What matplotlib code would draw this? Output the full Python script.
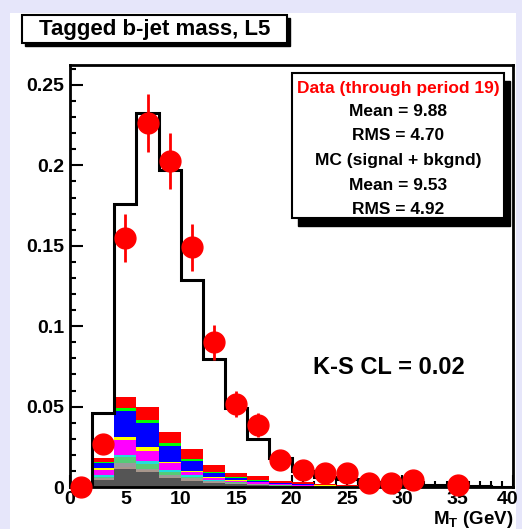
import numpy as np
import matplotlib
matplotlib.use("Agg")
import matplotlib.pyplot as plt
import matplotlib.transforms as mtransforms
from matplotlib.patches import Rectangle
from matplotlib.ticker import MultipleLocator

plt.rcParams['font.family'] = ['Liberation Sans', 'DejaVu Sans']
plt.rcParams['font.weight'] = 'bold'
plt.rcParams['mathtext.fontset'] = 'custom'
plt.rcParams['mathtext.bf'] = 'Liberation Sans:bold'
plt.rcParams['mathtext.rm'] = 'Liberation Sans:bold'

# ---------------- data ----------------
bin_edges = np.arange(0, 41, 2)
bin_centers = bin_edges[:-1] + 1

# MC (signal + background) total, normalised
mc_total = [0.0, 0.046, 0.176, 0.2326, 0.197, 0.129, 0.0796, 0.049, 0.030, 0.018,
            0.010, 0.006, 0.005, 0.003, 0.002, 0.0015, 0.001, 0.0008, 0.0005, 0.0003]

# Data points (bin centres)
data_x = [1, 3, 5, 7, 9, 11, 13, 15, 17, 19, 21, 23, 25, 27, 29, 31, 35]
data_y = [0.0, 0.0267, 0.155, 0.2264, 0.2027, 0.149, 0.090, 0.0516, 0.0386, 0.0168,
          0.0108, 0.0087, 0.0087, 0.0025, 0.0025, 0.0045, 0.0012]
data_err = [0.0, 0.006, 0.015, 0.018, 0.0175, 0.0146, 0.011, 0.0083, 0.0073, 0.005,
            0.004, 0.0035, 0.0035, 0.002, 0.002, 0.0025, 0.0012]

# Stacked background components: cumulative upper edge per bin (bottom to top)
stack_darkgray = [0, 0.0045, 0.0110, 0.0095, 0.0055, 0.0040, 0.0027, 0.0018, 0.0012, 0.0007, 0.0005, 0.0003, 0.0002, 0.0001, 0.0001, 0.0001, 0, 0, 0, 0]
stack_tan      = [0, 0.0050, 0.0122, 0.0105, 0.0064, 0.0048, 0.0032, 0.0021, 0.0014, 0.0008, 0.0006, 0.0004, 0.0003, 0.0002, 0.0001, 0.0001, 0, 0, 0, 0]
stack_gray     = [0, 0.0056, 0.0147, 0.0113, 0.0075, 0.0055, 0.0036, 0.0024, 0.0016, 0.0009, 0.0007, 0.0005, 0.0003, 0.0002, 0.0002, 0.0001, 0, 0, 0, 0]
stack_mint     = [0, 0.0062, 0.0185, 0.0145, 0.0092, 0.0065, 0.0040, 0.0028, 0.0019, 0.0011, 0.0008, 0.0006, 0.0004, 0.0003, 0.0002, 0.0001, 0, 0, 0, 0]
stack_cyan     = [0, 0.0072, 0.0199, 0.0164, 0.0106, 0.0072, 0.0044, 0.0030, 0.0021, 0.0012, 0.0009, 0.0006, 0.0004, 0.0003, 0.0002, 0.0001, 0, 0, 0, 0]
stack_magenta  = [0, 0.0108, 0.0292, 0.0226, 0.0147, 0.0095, 0.0058, 0.0040, 0.0030, 0.0018, 0.0013, 0.0009, 0.0006, 0.0004, 0.0003, 0.0002, 0, 0, 0, 0]
stack_yellow   = [0, 0.0116, 0.0313, 0.0251, 0.0158, 0.0100, 0.0060, 0.0042, 0.0031, 0.0019, 0.0014, 0.0010, 0.0006, 0.0004, 0.0003, 0.0002, 0, 0, 0, 0]
stack_blue     = [0, 0.0152, 0.0473, 0.0400, 0.0255, 0.0162, 0.0087, 0.0056, 0.0040, 0.0024, 0.0018, 0.0012, 0.0008, 0.0005, 0.0004, 0.0003, 0, 0, 0, 0]
stack_green    = [0, 0.0158, 0.0493, 0.0417, 0.0276, 0.0172, 0.0091, 0.0060, 0.0042, 0.0025, 0.0019, 0.0013, 0.0008, 0.0005, 0.0004, 0.0003, 0, 0, 0, 0]
stack_red      = [0, 0.0178, 0.0558, 0.0495, 0.0344, 0.0234, 0.0137, 0.0089, 0.0066, 0.0040, 0.0030, 0.0020, 0.0012, 0.0008, 0.0006, 0.0004, 0, 0, 0, 0]

stack_layers = [stack_darkgray, stack_tan, stack_gray, stack_mint, stack_cyan,
                stack_magenta, stack_yellow, stack_blue, stack_green, stack_red]
stack_colors = ['#555555', '#a8978c', '#9a9a9a', '#55cc77', '#22dddd',
                '#ff00ff', '#ffff00', '#0000ff', '#00ff00', '#ff0000']

x_ticks = [0, 5, 10, 15, 20, 25, 30, 35, 40]
y_ticks = [0, 0.05, 0.1, 0.15, 0.2, 0.25]
y_ticklabels = ['0', '0.05', '0.1', '0.15', '0.2', '0.25']

title_text = 'Tagged b-jet mass, L5'
stats_lines = ['Data (through period 19)', 'Mean = 9.88', 'RMS = 4.70',
               'MC (signal + bkgnd)', 'Mean = 9.53', 'RMS = 4.92']
ks_text = 'K-S CL = 0.02'

# ---------------- figure ----------------
W, H = 522, 529
fig = plt.figure(figsize=(W / 100, H / 100), dpi=100, facecolor='#e6e6fa')

def fx(px):
    return px / W

def fy(py):
    return 1 - py / H

# white canvas
fig.patches.append(Rectangle((fx(10), 0), fx(516) - fx(10), fy(13), transform=fig.transFigure,
                             facecolor='white', edgecolor='none', zorder=-10))

ax_left, ax_right, ax_top, ax_bottom = 70, 513, 65, 487
ax = fig.add_axes([fx(ax_left), fy(ax_bottom), fx(ax_right) - fx(ax_left), fy(ax_top) - fy(ax_bottom)])
ax.set_facecolor('white')

# stacked components
prev = np.zeros(len(bin_centers))
for layer, col in zip(stack_layers, stack_colors):
    top = np.array(layer)
    ax.bar(bin_centers, top - prev, width=2, bottom=prev, color=col, linewidth=0, zorder=2)
    prev = top

# MC total outline
ax.stairs(mc_total, bin_edges, color='black', linewidth=2.2, zorder=3)

# data
ax.errorbar(data_x, data_y, yerr=data_err, fmt='o', color='red', ms=15,
            elinewidth=2, capsize=0, clip_on=False, zorder=10)

ax.set_xlim(0, 40)
ax.set_ylim(0, 0.2624)
ax.set_xticks(x_ticks)
ax.set_xticklabels([str(t) for t in x_ticks])
ax.set_yticks(y_ticks)
ax.set_yticklabels(y_ticklabels)
ax.xaxis.set_minor_locator(MultipleLocator(1))
ax.yaxis.set_minor_locator(MultipleLocator(0.01))
ax.tick_params(which='both', direction='in', top=False, right=False, width=1.5, color='black')
ax.tick_params(which='major', length=9, labelsize=14)
ax.tick_params(which='minor', length=4.5)
ax.tick_params(axis='x', which='major', pad=3)
ax.tick_params(axis='y', which='major', pad=4)
for lab in ax.get_xticklabels() + ax.get_yticklabels():
    lab.set_fontweight('bold')
# nudge last x label inward like the reference
last = ax.get_xticklabels()[-1]
last.set_transform(last.get_transform() + mtransforms.ScaledTranslation(-5 / 100, 0, fig.dpi_scale_trans))
for sp in ax.spines.values():
    sp.set_linewidth(2)
    sp.set_zorder(5)

# K-S text
ax.text(fx(313), fy(367), ks_text, transform=fig.transFigure, fontsize=17,
        fontweight='bold', ha='left', va='center')

# x label
fig.text(fx(514), fy(520), r'$\mathbf{M_{T}}$ (GeV)', fontsize=13.5, fontweight='bold',
         ha='right', va='center')

# title box with shadow
tb_l, tb_t, tb_r, tb_b = 22, 15, 287, 43
sh = 3
fig.patches.append(Rectangle((fx(tb_l + sh), fy(tb_b + sh)), fx(tb_r) - fx(tb_l), fy(tb_t) - fy(tb_b),
                             transform=fig.transFigure, facecolor='black', edgecolor='black', zorder=1))
fig.patches.append(Rectangle((fx(tb_l), fy(tb_b)), fx(tb_r) - fx(tb_l), fy(tb_t) - fy(tb_b),
                             transform=fig.transFigure, facecolor='white', edgecolor='black',
                             linewidth=1.5, zorder=2))
fig.text(fx((tb_l + tb_r) / 2), fy((tb_t + tb_b) / 2 + 1), title_text, fontsize=16, fontweight='bold',
         ha='center', va='center', zorder=3)

# stats box with shadow
sb_l, sb_t, sb_r, sb_b = 292, 73, 504, 218
sh2 = 6
sax_shadow = Rectangle((fx(sb_l + sh2), fy(sb_b + sh2 + 2)), fx(sb_r) - fx(sb_l), fy(sb_t) - fy(sb_b),
                       transform=fig.transFigure, facecolor='black', edgecolor='black', zorder=20)
sbox = Rectangle((fx(sb_l), fy(sb_b)), fx(sb_r) - fx(sb_l), fy(sb_t) - fy(sb_b),
                 transform=fig.transFigure, facecolor='white', edgecolor='black', linewidth=1.5, zorder=21)
fig.add_artist(sax_shadow)
fig.add_artist(sbox)
line_y = [88, 112, 136, 160, 185, 209]
for i, (txt, yy) in enumerate(zip(stats_lines, line_y)):
    fig.text(fx((sb_l + sb_r) / 2), fy(yy), txt, fontsize=12.5, fontweight='bold',
             color='red' if i == 0 else 'black', ha='center', va='center', zorder=22)

fig.savefig('out.png', dpi=100, facecolor=fig.get_facecolor())
